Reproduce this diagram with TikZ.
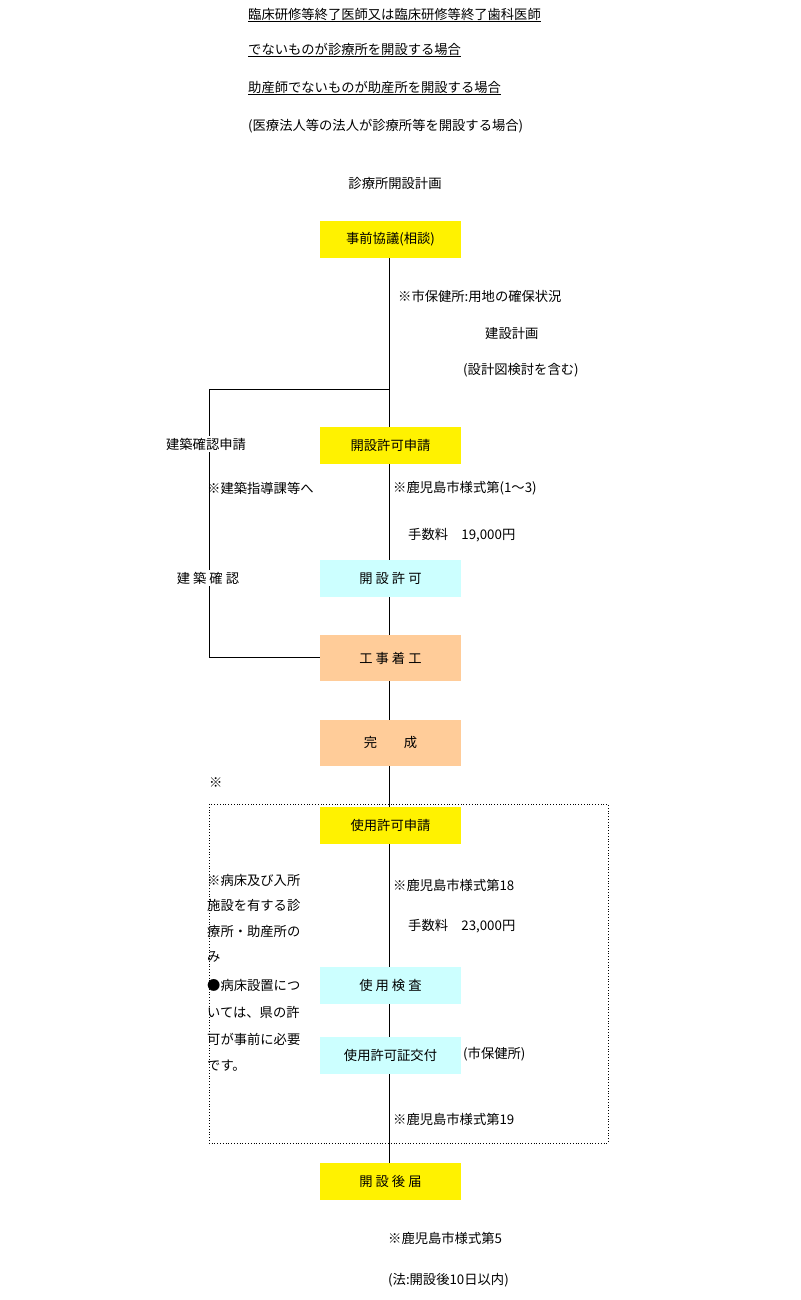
\documentclass[tikz,border=0pt]{standalone}
\usepackage{fontspec}
\setmainfont{Noto Sans CJK JP}
\definecolor{peach}{HTML}{FFCC99}
\definecolor{lcyan}{HTML}{CCFFFF}
\begin{document}
\begin{tikzpicture}[x=1pt,y=-1pt,
  every node/.style={font=\fontsize{13.3}{15}\selectfont,inner sep=0pt},
  bx/.style={minimum width=141pt,minimum height=37pt},
  yel/.style={bx,fill=yellow},
  cy/.style={bx,fill=lcyan},
  pe/.style={bx,fill=peach,minimum height=46pt},
  lt/.style={anchor=west},
  ln/.style={black,line width=0.8pt}]
\useasboundingbox (0,0) rectangle (800,1300);
\node[lt] (h1) at (248,15) {\underline{臨床研修等終了医師又は臨床研修等終了歯科医師}};
\node[lt] (h2) at (248,50) {\underline{でないものが診療所を開設する場合}};
\node[lt] (h3) at (248,88) {\underline{助産師でないものが助産所を開設する場合}};
\node[lt] (h4) at (248,126) {(医療法人等の法人が診療所等を開設する場合)};
\node (ti) at (395,183) {診療所開設計画};
\draw[dotted,ln] (209,804) rectangle (608,1143);
\coordinate (top) at (389,258);
\coordinate (bot) at (389,1163);
\draw[ln] (top) -- (bot);
\coordinate (j) at (389,389);
\coordinate (l1) at (209,389);
\coordinate (l2) at (209,657);
\draw[ln] (j) -- (l1) -- (l2) -- (320,657);
\node[yel] (b1) at (390.5,239.5) {事前協議(相談)};
\node[yel] (b2) at (390.5,445.5) {開設許可申請};
\node[cy] (b3) at (390.5,578.5) {開 設 許 可};
\node[pe] (b4) at (390.5,658) {工 事 着 工};
\node[pe] (b5) at (390.5,742.5) {完　　成};
\node[yel] (b6) at (390.5,825) {使用許可申請};
\node[cy] (b7) at (390.5,985.5) {使 用 検 査};
\node[cy] (b8) at (390.5,1055.5) {使用許可証交付};
\node[yel] (b9) at (390.5,1181.5) {開 設 後 届};
\node[lt] at (398,296) {※市保健所:用地の確保状況};
\node[lt] at (485,333) {建設計画};
\node[lt] at (463,370) {(設計図検討を含む)};
\node[fill=white,inner sep=2pt] (k1) at (206,444) {建築確認申請};
\node[lt] at (207,488) {※建築指導課等へ};
\node[lt] at (393,488) {※鹿児島市様式第(1～3)};
\node[lt] at (408,535) {手数料　19,000円};
\node[fill=white,inner sep=2pt] (k2) at (208,578) {建 築 確 認};
\node[lt] at (209,783) {※};
\node[lt] at (207,880) {※病床及び入所};
\node[lt] at (207,905) {施設を有する診};
\node[lt] at (207,931) {療所・助産所の};
\node[lt] at (207,957) {み};
\node[lt] at (207,985) {●病床設置につ};
\node[lt] at (207,1012) {いては、県の許};
\node[lt] at (207,1039) {可が事前に必要};
\node[lt] at (207,1066) {です。};
\node[lt] at (393,885) {※鹿児島市様式第18};
\node[lt] at (408,926) {手数料　23,000円};
\node[lt] at (463,1054) {(市保健所)};
\node[lt] at (393,1119) {※鹿児島市様式第19};
\node[lt] at (388,1238) {※鹿児島市様式第5};
\node[lt] at (388,1280) {(法:開設後10日以内)};
\end{tikzpicture}
\end{document}
